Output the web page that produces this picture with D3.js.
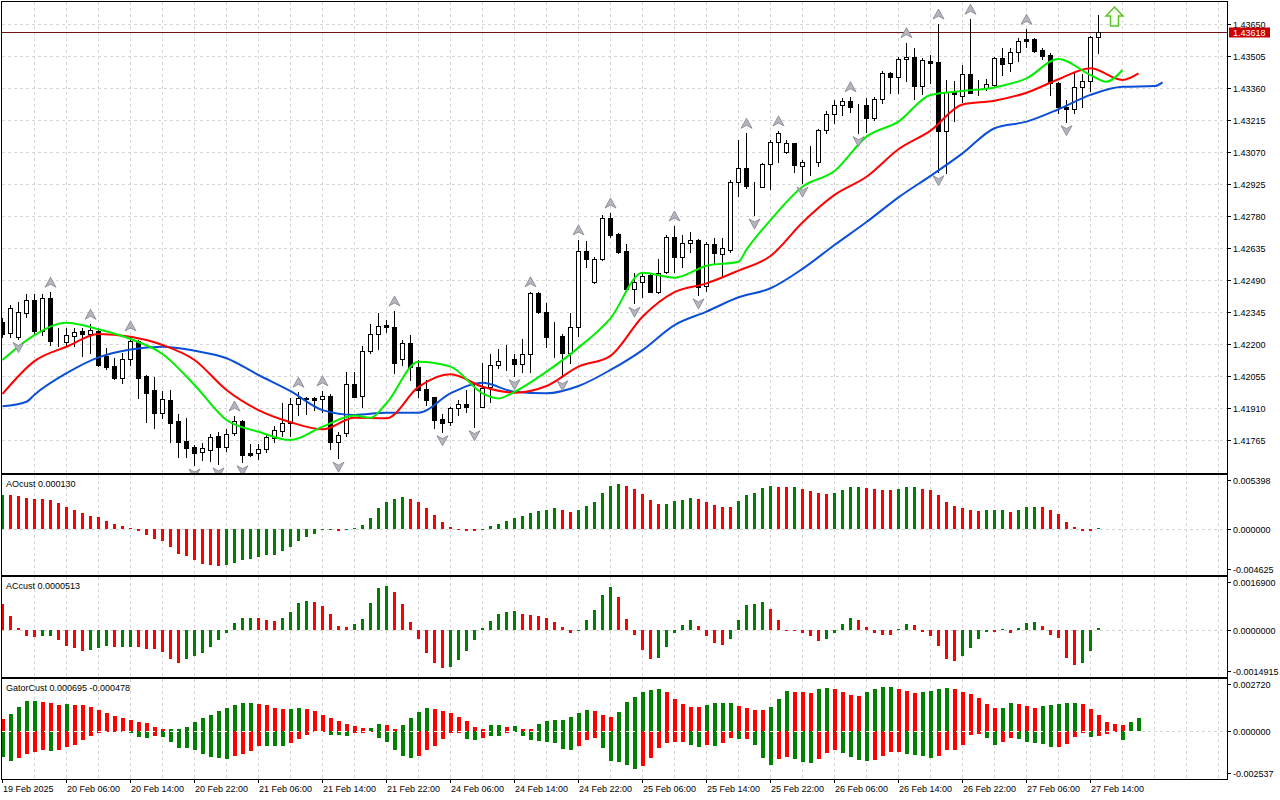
<!DOCTYPE html>
<html>
<head>
<meta charset="utf-8">
<script src="https://cdn.jsdelivr.net/npm/d3@7"></script>
<style>
body { margin:0; background:#fff; }
svg { display:block; font-family:"Liberation Sans", Arial, sans-serif; font-size:9px; }
</style>
</head>
<body>
<svg width="1280" height="800"></svg>
<script>
// ---- data (H1 bars, 19 Feb 22:00 .. 27 Feb 15:00) ----
var timeLabels = ["19 Feb 2025","20 Feb 06:00","20 Feb 14:00","20 Feb 22:00","21 Feb 06:00","21 Feb 14:00",
  "21 Feb 22:00","24 Feb 06:00","24 Feb 14:00","24 Feb 22:00","25 Feb 06:00","25 Feb 14:00","25 Feb 22:00",
  "26 Feb 06:00","26 Feb 14:00","26 Feb 22:00","27 Feb 06:00","27 Feb 14:00"];
var timeLabelBars = [0,8,16,24,32,40,48,56,64,72,80,88,96,104,112,120,128,136];

var priceTicks = [1.43650,1.43505,1.43360,1.43215,1.43070,1.42925,1.42780,1.42635,1.42490,1.42345,1.42200,1.42055,1.41910,1.41765];
var lastPrice = 1.43618;

var open = [1.42306,1.42253,1.42235,1.42346,1.42404,1.42265,1.42411,1.42218,1.42215,1.42242,
  1.42263,1.42251,1.42263,1.42150,1.42105,1.42052,1.42135,1.42218,1.42059,1.41996,
  1.41891,1.41951,1.41856,1.41765,1.41739,1.41716,1.41724,1.41788,1.41739,1.41800,
  1.41856,1.41709,1.41709,1.41727,1.41777,1.41812,1.41848,1.41931,1.41958,1.41958,
  1.41954,1.41969,1.41759,1.41800,1.42023,1.41969,1.42173,1.42248,1.42291,1.42283,
  1.42136,1.42208,1.42102,1.41999,1.41963,1.41863,1.41850,1.41913,1.41931,1.41925,
  1.41920,1.42011,1.42109,1.42131,1.42135,1.42114,1.42158,1.42434,1.42348,1.42237,
  1.42241,1.42162,1.42280,1.42626,1.42484,1.42588,1.42774,1.42702,1.42626,1.42452,
  1.42487,1.42517,1.42441,1.42532,1.42688,1.42597,1.42663,1.42676,1.42467,1.42656,
  1.42611,1.42630,1.42937,1.43001,1.42920,1.42917,1.43020,1.43121,1.43076,1.43114,
  1.43011,1.43029,1.43030,1.43174,1.43245,1.43286,1.43305,1.43287,1.43287,1.43230,
  1.43314,1.43434,1.43416,1.43494,1.43506,1.43373,1.43487,1.43484,1.43171,1.43348,
  1.43330,1.43428,1.43358,1.43363,1.43378,1.43499,1.43476,1.43526,1.43585,1.43585,
  1.43537,1.43514,1.43386,1.43280,1.43268,1.43370,1.43397,1.43594];
var high = [1.42322,1.42381,1.42393,1.42431,1.42431,1.42430,1.42439,1.42278,1.42276,1.42276,
  1.42276,1.42294,1.42276,1.42185,1.42140,1.42165,1.42241,1.42223,1.42064,1.42056,
  1.41993,1.41996,1.41886,1.41868,1.41747,1.41755,1.41795,1.41807,1.41818,1.41878,
  1.41860,1.41750,1.41750,1.41797,1.41834,1.41936,1.41958,1.41986,1.41964,1.41966,
  1.41992,1.41977,1.41807,1.42076,1.42076,1.42197,1.42295,1.42344,1.42313,1.42354,
  1.42223,1.42245,1.42132,1.42041,1.41966,1.41887,1.41920,1.41951,1.41996,1.42029,
  1.42120,1.42159,1.42180,1.42200,1.42159,1.42226,1.42441,1.42439,1.42389,1.42306,
  1.42250,1.42344,1.42676,1.42673,1.42600,1.42789,1.42798,1.42706,1.42658,1.42525,
  1.42525,1.42525,1.42588,1.42698,1.42739,1.42698,1.42711,1.42680,1.42668,1.42683,
  1.42683,1.42948,1.43129,1.43159,1.42940,1.43026,1.43129,1.43170,1.43129,1.43116,
  1.43038,1.43102,1.43177,1.43260,1.43310,1.43320,1.43325,1.43290,1.43318,1.43322,
  1.43443,1.43438,1.43503,1.43570,1.43547,1.43499,1.43514,1.43654,1.43401,1.43397,
  1.43469,1.43676,1.43401,1.43404,1.43506,1.43544,1.43547,1.43590,1.43630,1.43590,
  1.43544,1.43522,1.43393,1.43310,1.43434,1.43428,1.43600,1.43695];
var low = [1.42236,1.42237,1.42229,1.42328,1.42245,1.42245,1.42200,1.42195,1.42195,1.42195,
  1.42150,1.42165,1.42105,1.42091,1.42045,1.42026,1.42109,1.41958,1.41853,1.41825,
  1.41868,1.41762,1.41694,1.41694,1.41656,1.41679,1.41676,1.41661,1.41721,1.41792,
  1.41671,1.41698,1.41684,1.41716,1.41762,1.41789,1.41789,1.41883,1.41887,1.41905,
  1.41898,1.41729,1.41687,1.41789,1.41964,1.41920,1.42165,1.42182,1.42260,1.42072,
  1.42109,1.42041,1.41966,1.41928,1.41823,1.41807,1.41838,1.41883,1.41898,1.41830,
  1.41918,1.41940,1.42094,1.42087,1.42061,1.42079,1.42079,1.42346,1.42192,1.42147,
  1.42056,1.42117,1.42241,1.42555,1.42482,1.42585,1.42691,1.42616,1.42449,1.42389,
  1.42419,1.42439,1.42434,1.42525,1.42532,1.42555,1.42623,1.42427,1.42446,1.42570,
  1.42514,1.42623,1.42875,1.42910,1.42789,1.42914,1.42905,1.43030,1.43069,1.42985,
  1.42933,1.42970,1.43012,1.43159,1.43204,1.43242,1.43257,1.43162,1.43164,1.43219,
  1.43295,1.43343,1.43343,1.43396,1.43313,1.43336,1.43386,1.42985,1.42978,1.43216,
  1.43302,1.43340,1.43333,1.43355,1.43373,1.43423,1.43443,1.43487,1.43549,1.43529,
  1.43494,1.43333,1.43253,1.43212,1.43253,1.43280,1.43352,1.43522];
var close = [1.42248,1.42366,1.42348,1.42404,1.42265,1.42411,1.42219,1.42217,1.42245,1.42257,
  1.42248,1.42267,1.42109,1.42102,1.42052,1.42135,1.42218,1.42052,1.41984,1.41891,
  1.41954,1.41848,1.41762,1.41735,1.41712,1.41732,1.41784,1.41739,1.41795,1.41856,
  1.41702,1.41702,1.41729,1.41782,1.41815,1.41848,1.41933,1.41958,1.41957,1.41952,
  1.41969,1.41759,1.41792,1.42022,1.41966,1.42173,1.42248,1.42286,1.42280,1.42117,
  1.42208,1.42102,1.41996,1.41951,1.41860,1.41848,1.41913,1.41931,1.41920,1.41924,
  1.42004,1.42109,1.42129,1.42130,1.42112,1.42158,1.42434,1.42348,1.42237,1.42236,
  1.42162,1.42280,1.42626,1.42588,1.42588,1.42774,1.42698,1.42623,1.42452,1.42487,
  1.42514,1.42441,1.42527,1.42688,1.42597,1.42663,1.42676,1.42464,1.42656,1.42616,
  1.42641,1.42937,1.43001,1.42922,1.42921,1.43020,1.43121,1.43159,1.43114,1.43015,
  1.43028,1.43030,1.43174,1.43245,1.43286,1.43305,1.43280,1.43286,1.43230,1.43313,
  1.43431,1.43416,1.43494,1.43506,1.43375,1.43491,1.43476,1.43171,1.43345,1.43336,
  1.43428,1.43343,1.43360,1.43383,1.43499,1.43474,1.43526,1.43579,1.43579,1.43533,
  1.43511,1.43386,1.43277,1.43268,1.43370,1.43397,1.43594,1.43618];

// Alligator lines, [bar, price] read at sample points (already shifted forward)
var jaw = [[0,1.41922],[3,1.41943],[4,1.41975],[8,1.42072],[12,1.42144],[16,1.42180],[20,1.42192],[24,1.42174],
  [28,1.42140],[32,1.42064],[36,1.41991],[40,1.41905],[44,1.41883],[48,1.41893],[52,1.41893],[56,1.41981],
  [60,1.42029],[64,1.41988],[68,1.41981],[72,1.42014],[76,1.42087],[80,1.42177],[84,1.42290],[88,1.42351],
  [92,1.42416],[96,1.42457],[100,1.42545],[104,1.42653],[108,1.42757],[112,1.42869],[116,1.42966],[120,1.43068],
  [124,1.43182],[128,1.43212],[132,1.43268],[136,1.43333],[140,1.43370],[144,1.43373],[145,1.43390]];
var teeth = [[0,1.41978],[4,1.42127],[8,1.42192],[12,1.42250],[16,1.42237],[20,1.42200],[24,1.42132],[28,1.41996],
  [32,1.41905],[36,1.41850],[40,1.41818],[44,1.41870],[48,1.41868],[52,1.42010],[56,1.42067],[60,1.42011],
  [64,1.41984],[68,1.42014],[72,1.42102],[76,1.42151],[80,1.42328],[84,1.42439],[88,1.42479],[92,1.42537],
  [96,1.42603],[100,1.42755],[104,1.42880],[108,1.42962],[112,1.43087],[116,1.43171],[120,1.43290],[124,1.43307],
  [128,1.43343],[132,1.43404],[136,1.43454],[140,1.43401],[142,1.43431]];
var lips = [[0,1.42132],[4,1.42245],[8,1.42301],[12,1.42271],[16,1.42227],[20,1.42159],[24,1.42019],[28,1.41860],
  [32,1.41807],[36,1.41769],[40,1.41830],[44,1.41880],[46,1.41870],[48,1.41936],[52,1.42124],[56,1.42102],
  [60,1.41981],[62,1.41958],[64,1.41988],[68,1.42079],[72,1.42188],[76,1.42321],[80,1.42527],[84,1.42505],
  [88,1.42559],[92,1.42577],[93,1.42632],[96,1.42766],[100,1.42917],[104,1.42988],[108,1.43144],[112,1.43212],
  [116,1.43333],[120,1.43351],[124,1.43367],[128,1.43408],[132,1.43496],[136,1.43423],[138,1.43393],[140,1.43446]];

var fractalUp = [6,11,16,29,37,40,49,66,72,76,84,93,97,106,113,117,121,128];
var fractalDown = [2,24,27,30,42,55,59,64,70,79,87,94,100,107,117,133];
var signalBar = 139, signalPrice = 1.43731;

// AO
var aoTicks = [0.005398, 0, -0.004625];
var aoLast = "0.000130";
var aoValues = [0.003480,0.003477,0.003307,0.003170,0.003068,0.003060,0.002966,0.002659,0.002250,0.001943,
  0.001636,0.001330,0.001159,0.000818,0.000511,0.000239,0.000034,-0.000273,-0.000614,-0.001023,
  -0.001295,-0.001875,-0.002557,-0.002829,-0.003239,-0.003579,-0.003750,-0.003760,-0.003750,-0.003477,
  -0.003239,-0.003068,-0.002898,-0.002727,-0.002659,-0.002318,-0.001875,-0.001295,-0.000886,-0.000511,
  -0.000170,-0.000068,-0.000239,-0.000034,0.000102,0.000409,0.001125,0.002079,0.002727,0.003068,
  0.003239,0.003068,0.002727,0.002079,0.001432,0.000716,0.000205,0.000020,-0.000239,-0.000245,
  -0.000034,0.000239,0.000511,0.000818,0.001125,0.001330,0.001636,0.001807,0.001943,0.002079,
  0.001943,0.001739,0.001943,0.002353,0.002762,0.003683,0.004399,0.004604,0.004399,0.004092,
  0.003580,0.002967,0.002558,0.002565,0.002864,0.002967,0.003171,0.003069,0.002762,0.002421,
  0.002251,0.002245,0.002864,0.003478,0.003683,0.004194,0.004399,0.004263,0.004255,0.004297,
  0.004092,0.003887,0.003649,0.003580,0.003683,0.003990,0.004297,0.004310,0.004160,0.004092,
  0.003990,0.003980,0.004092,0.004297,0.004305,0.004092,0.003990,0.003478,0.002762,0.002353,
  0.002148,0.001943,0.001841,0.001943,0.001950,0.001957,0.001739,0.001943,0.002251,0.002258,
  0.002245,0.001943,0.001535,0.000716,0.000205,-0.000239,-0.000245,0.000130];
var aoColorRuns = [["g",1],["r",27],["g",14],["r",1],["g",8],["r",9],["g",10],["r",2],["g",6],["r",5],["g",4],
  ["r",5],["g",5],["r",2],["g",1],["r",4],["g",4],["r",4],["g",3],["r",8],["g",3],["r",1],["g",3],["r",7],["g",1]];

// AC
var acTicks = [0.0016900, 0, -0.0014915];
var acLast = "0.0000513";
var acValues = [0.000844,0.000454,0.000065,-0.000195,-0.000227,-0.000195,-0.000190,-0.000325,-0.000519,-0.000584,
  -0.000671,-0.000649,-0.000584,-0.000519,-0.000552,-0.000545,-0.000540,-0.000552,-0.000606,-0.000628,
  -0.000714,-0.000931,-0.001060,-0.000952,-0.000844,-0.000736,-0.000552,-0.000335,-0.000108,0.000238,
  0.000390,0.000395,0.000385,0.000325,0.000303,0.000390,0.000584,0.000887,0.000941,0.000909,
  0.000779,0.000509,0.000130,0.000108,0.000184,0.000368,0.000887,0.001363,0.001428,0.001233,
  0.000844,0.000260,-0.000303,-0.000757,-0.001082,-0.001223,-0.001190,-0.000974,-0.000682,-0.000335,
  0.000065,0.000292,0.000519,0.000595,0.000628,0.000519,0.000476,0.000454,0.000390,0.000260,
  0.000108,-0.000108,0.000010,0.000325,0.000660,0.001136,0.001396,0.001071,0.000368,-0.000173,
  -0.000649,-0.000931,-0.000898,-0.000541,-0.000087,0.000162,0.000335,0.000130,-0.000195,-0.000411,
  -0.000487,-0.000303,0.000325,0.000812,0.000833,0.000920,0.000692,0.000314,0.000003,-0.000022,
  -0.000087,-0.000195,-0.000357,-0.000281,-0.000087,0.000195,0.000390,0.000335,0.000097,-0.000108,
  -0.000151,-0.000173,0.000022,0.000184,0.000162,-0.000065,-0.000195,-0.000519,-0.000931,-0.000995,
  -0.000844,-0.000573,-0.000281,-0.000060,-0.000075,0.000022,-0.000108,0.000076,0.000238,0.000271,
  0.000130,-0.000151,-0.000249,-0.000898,-0.001147,-0.001082,-0.000682,0.0000513];
var acColorRuns = [["r",5],["g",2],["r",4],["g",3],["r",1],["g",2],["r",6],["g",9],["r",3],["g",4],["r",5],
  ["g",5],["r",7],["g",9],["r",7],["g",5],["r",5],["g",5],["r",4],["g",5],["r",7],["g",4],["r",5],["g",2],
  ["r",6],["g",4],["r",1],["g",1],["r",1],["g",3],["r",5],["g",3]];

// Gator
var gatorTicks = [0.002720, 0, -0.002537];
var gatorLast = "0.000695 -0.000478";
var gatorUpper = [0.000608,0.000876,0.001252,0.001573,0.001580,0.001520,0.001466,0.001359,0.001413,0.001405,
  0.001359,0.001252,0.001091,0.000948,0.000769,0.000697,0.000590,0.000483,0.000411,0.000179,
  0.000072,0.000075,0.000090,0.000215,0.000483,0.000662,0.000840,0.001055,0.001198,0.001377,
  0.001466,0.001475,0.001430,0.001377,0.001198,0.001144,0.001162,0.001198,0.001144,0.001037,
  0.000822,0.000662,0.000501,0.000358,0.000250,0.000125,0.000161,0.000340,0.000304,0.000072,
  0.000304,0.000662,0.001001,0.001198,0.001190,0.001073,0.000930,0.000733,0.000519,0.000179,
  0.000107,0.000286,0.000295,0.000179,0.000232,0.000072,0.000065,0.000340,0.000519,0.000554,
  0.000560,0.000715,0.000948,0.001091,0.001037,0.000822,0.000715,0.000983,0.001520,0.001788,
  0.002056,0.002163,0.002217,0.002056,0.001681,0.001413,0.001252,0.001245,0.001359,0.001466,
  0.001472,0.001478,0.001305,0.001198,0.001091,0.001085,0.001252,0.001681,0.002110,0.002100,
  0.002056,0.002003,0.002217,0.002271,0.002217,0.002056,0.001895,0.001888,0.002056,0.002217,
  0.002324,0.002330,0.002217,0.002110,0.002003,0.002056,0.002110,0.002217,0.002271,0.002217,
  0.002056,0.001949,0.001734,0.001413,0.001198,0.001205,0.001466,0.001413,0.001305,0.001198,
  0.001305,0.001359,0.001413,0.001466,0.001472,0.001413,0.001144,0.000822,0.000447,0.000340,
  0.000286,0.000447,0.000695];
var gatorUpperRuns = [["r",1],["g",4],["r",3],["g",1],["r",12],["g",11],["r",4],["g",2],["r",8],["g",2],["r",2],
  ["g",4],["r",7],["g",2],["r",1],["g",1],["r",2],["g",7],["r",3],["g",6],["r",5],["g",4],["r",4],["g",3],
  ["r",3],["g",2],["r",4],["g",4],["r",3],["g",4],["r",6],["g",2],["r",3],["g",5],["r",6],["g",2]];
var gatorLower = [-0.001430,-0.001627,-0.001484,-0.001269,-0.001162,-0.001037,-0.001091,-0.001037,-0.000894,-0.000769,
  -0.000501,-0.000286,-0.000143,-0.000072,-0.000050,-0.000030,-0.000107,-0.000358,-0.000411,-0.000268,
  -0.000358,-0.000626,-0.000912,-0.000948,-0.001037,-0.001269,-0.001430,-0.001484,-0.001502,-0.001359,
  -0.001234,-0.001091,-0.000805,-0.000820,-0.000830,-0.000840,-0.000644,-0.000447,-0.000232,-0.000054,
  -0.000018,-0.000232,-0.000240,-0.000286,-0.000143,-0.000107,-0.000054,-0.000375,-0.000626,-0.001037,
  -0.001359,-0.001484,-0.001341,-0.001037,-0.000822,-0.000447,-0.000143,-0.000107,-0.000447,-0.000501,
  -0.000375,-0.000268,-0.000268,-0.000143,-0.000054,-0.000268,-0.000501,-0.000536,-0.000590,-0.000679,
  -0.001001,-0.001055,-0.000840,-0.000519,-0.000411,-0.000948,-0.001627,-0.001699,-0.001860,-0.002056,
  -0.001913,-0.001484,-0.000948,-0.000679,-0.000626,-0.000620,-0.000787,-0.000894,-0.000787,-0.000840,
  -0.000679,-0.000411,-0.000465,-0.000460,-0.000769,-0.001484,-0.001860,-0.001538,-0.001430,-0.001538,
  -0.001699,-0.001752,-0.001538,-0.001216,-0.001055,-0.001216,-0.001430,-0.001591,-0.001600,-0.001591,
  -0.001377,-0.001162,-0.001155,-0.001269,-0.001323,-0.001377,-0.001484,-0.001377,-0.001055,-0.001050,
  -0.000787,-0.000250,-0.000197,-0.000411,-0.000787,-0.000626,-0.000411,-0.000465,-0.000626,-0.000679,
  -0.000733,-0.000894,-0.000887,-0.000733,-0.000358,-0.000143,-0.000358,-0.000304,-0.000197,-0.000054,
  -0.000478];
var gatorLowerRuns = [["g",2],["r",4],["g",1],["r",9],["g",3],["r",1],["g",9],["r",4],["g",3],["r",5],["g",3],
  ["r",3],["g",5],["r",6],["g",2],["r",1],["g",2],["r",1],["g",8],["r",3],["g",5],["r",6],["g",2],["r",1],
  ["g",1],["r",2],["g",1],["r",1],["g",3],["r",2],["g",3],["r",3],["g",4],["r",4],["g",4],["r",6],["g",2],
  ["r",2],["g",5],["r",4],["g",1],["r",3],["g",1]];

// ---- layout ----
var svg = d3.select("svg");
var GREEN = "#008000", RED = "#ff0000", GRID = "#d6d6d6";
var plotLeft = 2, plotRight = 1227;
var panels = {
  main:  {top:2,   bottom:473},
  ao:    {top:475, bottom:575},
  ac:    {top:577, bottom:677},
  gator: {top:679, bottom:779}
};

var x = d3.scaleLinear().domain([0, 152]).range([2.5, 1218.5]);
var y = d3.scaleLinear().domain([1.41620, 1.43754]).range([473, 2]);
var yAO = d3.scaleLinear().domain([-0.004625, 0.005398]).range([574, 476]);
var yAC = d3.scaleLinear().domain([-0.0014915, 0.0016900]).range([676, 578]);
var yG = d3.scaleLinear().domain([-0.002537, 0.002720]).range([778, 680]);

function expand(runs) {
  var out = [];
  runs.forEach(function(r){ for (var k = 0; k < r[1]; k++) out.push(r[0] == "g" ? GREEN : RED); });
  return out;
}
function px(v) { return Math.round(v - 0.5) + 0.5; }

var defs = svg.append("defs");
Object.keys(panels).forEach(function(k){
  var p = panels[k];
  defs.append("clipPath").attr("id","clip-"+k).append("rect")
    .attr("x",plotLeft).attr("y",p.top).attr("width",plotRight-plotLeft).attr("height",p.bottom-p.top);
});

// grid
Object.keys(panels).forEach(function(k){
  var p = panels[k];
  var g = svg.append("g").attr("stroke",GRID).attr("stroke-dasharray","3,3").attr("shape-rendering","crispEdges");
  d3.range(4, 153, 4).forEach(function(i){
    g.append("line").attr("x1",x(i)).attr("x2",x(i)).attr("y1",p.top).attr("y2",p.bottom);
  });
});
var gridH = svg.append("g").attr("stroke",GRID).attr("stroke-dasharray","3,3").attr("shape-rendering","crispEdges");
priceTicks.forEach(function(t){
  gridH.append("line").attr("x1",plotLeft).attr("x2",plotRight).attr("y1",px(y(t))).attr("y2",px(y(t)));
});

// ---- main panel ----
var mainG = svg.append("g").attr("clip-path","url(#clip-main)");

mainG.append("line").attr("x1",plotLeft).attr("x2",plotRight)
  .attr("y1",px(y(lastPrice))).attr("y2",px(y(lastPrice)))
  .attr("stroke","#6e1414").attr("shape-rendering","crispEdges");

var candleG = mainG.append("g").attr("shape-rendering","crispEdges");
open.forEach(function(o, i){
  var c = close[i], cx = x(i);
  candleG.append("line").attr("x1",cx).attr("x2",cx)
    .attr("y1",Math.round(y(high[i]))).attr("y2",Math.round(y(low[i]))+1)
    .attr("stroke","#000");
  var yo = Math.round(y(o)), yc = Math.round(y(c));
  candleG.append("rect").attr("x",cx-2).attr("y",Math.min(yo,yc)+0.5)
    .attr("width",4).attr("height",Math.abs(yo-yc))
    .attr("fill", c >= o ? "#fff" : "#000").attr("stroke","#000");
});

var line = d3.line().x(function(d){return x(d[0]);}).y(function(d){return y(d[1]);}).curve(d3.curveMonotoneX);
mainG.append("path").datum(jaw).attr("d",line).attr("fill","none").attr("stroke","#0b4fd6").attr("stroke-width",2);
mainG.append("path").datum(teeth).attr("d",line).attr("fill","none").attr("stroke","#ff0000").attr("stroke-width",2);
mainG.append("path").datum(lips).attr("d",line).attr("fill","none").attr("stroke","#00ee00").attr("stroke-width",2);

var fracG = mainG.append("g").attr("fill","#b4b6bf").attr("stroke","#80828c").attr("stroke-width",0.8);
fractalUp.forEach(function(i){
  var cx = x(i), by = y(high[i]) - 5;
  fracG.append("path").attr("d","M"+cx+","+(by-10)+"L"+(cx+5.5)+","+by+"L"+cx+","+(by-3)+"L"+(cx-5.5)+","+by+"Z");
});
fractalDown.forEach(function(i){
  var cx = x(i), by = y(low[i]) + 4;
  fracG.append("path").attr("d","M"+cx+","+(by+10)+"L"+(cx+5.5)+","+by+"L"+cx+","+(by+3)+"L"+(cx-5.5)+","+by+"Z");
});

// signal arrow
(function(){
  var cx = x(signalBar), ty = y(signalPrice);
  var pts = [[0,0],[8.5,9],[4,9],[4,19],[-4,19],[-4,9],[-8.5,9]];
  svg.append("path")
    .attr("d","M"+pts.map(function(p){return (cx+p[0])+","+(ty+p[1]);}).join("L")+"Z")
    .attr("fill","#f6fff0").attr("stroke","#5cc22a").attr("stroke-width",1.5);
})();

// ---- histograms ----
function histogram(key, scale, values, colors, width) {
  var g = svg.append("g").attr("clip-path","url(#clip-"+key+")").attr("shape-rendering","crispEdges");
  var y0 = Math.round(scale(0));
  values.forEach(function(v, i){
    var yv = Math.round(scale(v));
    g.append("rect").attr("x",x(i)-1.5).attr("width",width)
      .attr("y",Math.min(yv,y0)).attr("height",Math.max(Math.abs(yv-y0),1))
      .attr("fill",colors[i]);
  });
  return g;
}
function zeroLine(scale, color, x2) {
  svg.append("line").attr("x1",plotLeft).attr("x2",x2 || plotRight)
    .attr("y1",Math.round(scale(0))+0.5).attr("y2",Math.round(scale(0))+0.5)
    .attr("stroke",color).attr("stroke-dasharray","3,3").attr("shape-rendering","crispEdges");
}

zeroLine(yAO, GRID);
histogram("ao", yAO, aoValues, expand(aoColorRuns), 3);
zeroLine(yAC, GRID);
histogram("ac", yAC, acValues, expand(acColorRuns), 3);
zeroLine(yG, GRID);
histogram("gator", yG, gatorUpper, expand(gatorUpperRuns), 4);
histogram("gator", yG, gatorLower, expand(gatorLowerRuns), 4);
zeroLine(yG, "#ffffff", x(142)+3);

// ---- frames ----
Object.keys(panels).forEach(function(k){
  var p = panels[k];
  svg.append("rect").attr("x",plotLeft-0.5).attr("y",p.top-0.5)
    .attr("width",plotRight-plotLeft+1).attr("height",p.bottom-p.top+1)
    .attr("fill","none").attr("stroke","#000").attr("shape-rendering","crispEdges");
});

// ---- texts ----
var labelX = 1233;
var axisG = svg.append("g").attr("fill","#000");
var tickG = svg.append("g").attr("stroke","#000").attr("shape-rendering","crispEdges");
priceTicks.forEach(function(t){
  var yy = px(y(t));
  tickG.append("line").attr("x1",plotRight).attr("x2",plotRight+4).attr("y1",yy).attr("y2",yy);
  axisG.append("text").attr("x",labelX).attr("y",yy).attr("dy","0.35em").text(t.toFixed(5));
});

// last price tag
var lp = px(y(lastPrice));
svg.append("rect").attr("x",1229).attr("y",lp-5).attr("width",41).attr("height",10).attr("fill","#c80000");
svg.append("text").attr("x",1233).attr("y",lp).attr("dy","0.35em").attr("fill","#fff").text(lastPrice.toFixed(5));

function subAxis(key, scale, ticks, digits) {
  var p = panels[key];
  ticks.forEach(function(t){
    var yy = Math.max(p.top + 5, Math.min(p.bottom - 6, Math.round(scale(t)))) + 0.5;
    tickG.append("line").attr("x1",plotRight).attr("x2",plotRight+4).attr("y1",yy).attr("y2",yy);
    axisG.append("text").attr("x",labelX).attr("y",yy).attr("dy","0.35em").text(t.toFixed(digits));
  });
}
subAxis("ao", yAO, aoTicks, 6);
subAxis("ac", yAC, acTicks, 7);
subAxis("gator", yG, gatorTicks, 6);

svg.append("text").attr("x",6).attr("y",panels.ao.top+12).text("AOcust " + aoLast);
svg.append("text").attr("x",6).attr("y",panels.ac.top+12).text("ACcust " + acLast);
svg.append("text").attr("x",6).attr("y",panels.gator.top+12).text("GatorCust " + gatorLast);

timeLabels.forEach(function(lbl, k){
  var bx = x(timeLabelBars[k]);
  tickG.append("line").attr("x1",bx).attr("x2",bx).attr("y1",panels.gator.bottom).attr("y2",panels.gator.bottom+4);
  axisG.append("text").attr("x",bx+0.5).attr("y",792).text(lbl);
});
</script>
</body>
</html>
